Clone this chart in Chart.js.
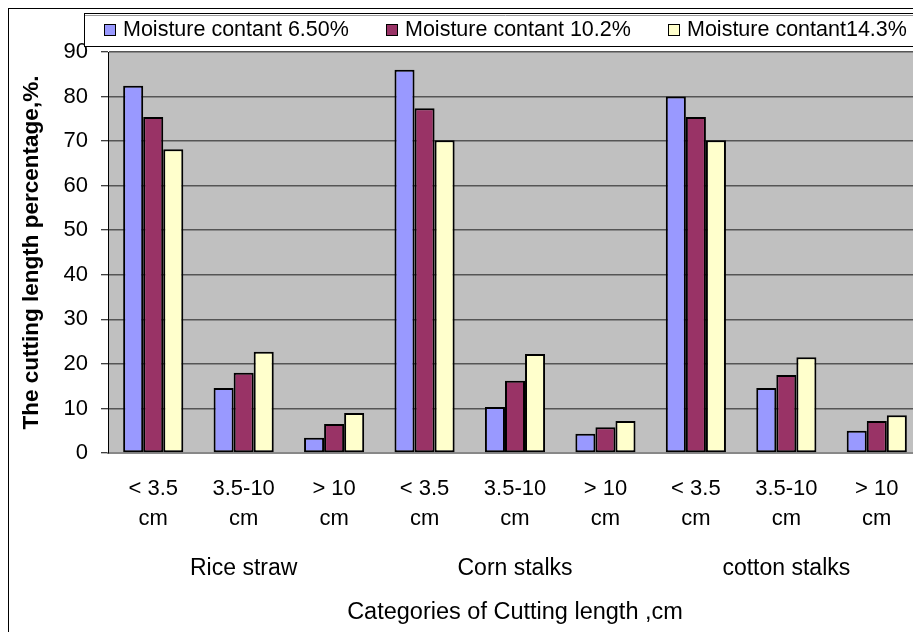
<!DOCTYPE html>
<html>
<head>
<meta charset="utf-8">
<script src="https://cdn.jsdelivr.net/npm/chart.js@4.4.0/dist/chart.umd.min.js"></script>
<style>
    html, body { margin: 0; padding: 0; background: #fff; overflow: hidden; }
    #wrap { width: 925px; height: 632px; }
</style>
</head>
<body>
<div id="wrap"><canvas id="chart" width="925" height="632"></canvas></div>
<script>
// Cutting length categories (two lines each) and crop groups
const cuttingLabels = [
    ['< 3.5', 'cm'], ['3.5-10', 'cm'], ['> 10', 'cm'],
    ['< 3.5', 'cm'], ['3.5-10', 'cm'], ['> 10', 'cm'],
    ['< 3.5', 'cm'], ['3.5-10', 'cm'], ['> 10', 'cm']
];
const cropGroups = ['Rice straw', 'Corn stalks', 'cotton stalks'];

const seriesNames = ['Moisture contant 6.50%', 'Moisture contant 10.2%', 'Moisture contant14.3%'];
const moisture650 = [82.4, 14.6, 3.4, 86.0, 10.3, 4.3, 80.0, 14.6, 5.0];
const moisture102 = [75.4, 18.0, 6.5, 77.4, 16.2, 5.8, 75.4, 17.5, 7.2];
const moisture143 = [68.2, 22.7, 9.0, 70.2, 22.2, 7.2, 70.2, 21.5, 8.5];
const seriesColors = ['#9999FF', '#993366', '#FFFFCC'];

const yTicks = [0, 10, 20, 30, 40, 50, 60, 70, 80, 90];

const FONT = "'Liberation Sans', Arial, sans-serif";

// plot background + outer frame
const backdrop = {
    id: 'backdrop',
    beforeDraw(chart) {
        const { ctx, chartArea: a } = chart;
        ctx.save();
        ctx.strokeStyle = '#000';
        ctx.lineWidth = 1;
        ctx.strokeRect(8.5, 8.5, 1000, 700);
        ctx.fillStyle = '#C0C0C0';
        ctx.fillRect(a.left, a.top, a.right - a.left, a.bottom - a.top);
        ctx.restore();
    }
};

// legend drawn as a boxed strip overlapping the top of the plot
const boxLegend = {
    id: 'boxLegend',
    afterDraw(chart) {
        const ctx = chart.ctx;
        ctx.save();
        ctx.fillStyle = '#fff';
        ctx.fillRect(84, 13, 900, 33);
        ctx.strokeStyle = '#000';
        ctx.lineWidth = 1;
        ctx.strokeRect(84.5, 13.5, 900, 33);
        ctx.strokeStyle = '#999';
        ctx.beginPath();
        ctx.moveTo(85, 15.5);
        ctx.lineTo(984, 15.5);
        ctx.stroke();
        ctx.strokeStyle = '#000';
        ctx.font = '21.5px ' + FONT;
        ctx.textBaseline = 'middle';
        const starts = [104, 386, 668];
        chart.data.datasets.forEach((ds, i) => {
            const x = starts[i];
            ctx.fillStyle = ds.backgroundColor;
            ctx.fillRect(x + 0.5, 24.5, 11, 11);
            ctx.strokeRect(x + 0.5, 24.5, 11, 11);
            ctx.fillStyle = '#000';
            ctx.fillText(ds.label, x + 19, 30);
        });
        ctx.restore();
    }
};

const ctx = document.getElementById('chart').getContext('2d');
new Chart(ctx, {
    type: 'bar',
    data: {
        labels: cuttingLabels,
        datasets: [
            { label: seriesNames[0], data: moisture650, backgroundColor: seriesColors[0] },
            { label: seriesNames[1], data: moisture102, backgroundColor: seriesColors[1] },
            { label: seriesNames[2], data: moisture143, backgroundColor: seriesColors[2] }
        ].map(ds => Object.assign(ds, {
            borderColor: '#000',
            borderWidth: 2,
            borderSkipped: false,
            categoryPercentage: 0.665,
            barPercentage: 1.0
        }))
    },
    options: {
        responsive: false,
        animation: false,
        layout: { padding: { left: 8, top: 52, right: 3, bottom: 0 } },
        plugins: {
            legend: { display: false },
            tooltip: { enabled: false }
        },
        scales: {
            x: {
                position: 'bottom',
                weight: 0,
                grid: { display: false, drawTicks: false },
                border: { display: true, color: '#888', width: 2 },
                ticks: {
                    color: '#000',
                    font: { family: FONT, size: 22, lineHeight: 1.36 },
                    padding: 21,
                    maxRotation: 0,
                    autoSkip: false
                },
                afterFit(scale) { scale.height = 80; }
            },
            x2: {
                type: 'category',
                labels: cropGroups,
                position: 'bottom',
                weight: 1,
                offset: true,
                grid: { display: false, drawTicks: false },
                border: { display: false },
                ticks: {
                    color: '#000',
                    font: { family: FONT, size: 23, lineHeight: 1.2 },
                    padding: 22,
                    maxRotation: 0
                },
                title: {
                    display: true,
                    text: 'Categories of Cutting length ,cm',
                    color: '#000',
                    font: { family: FONT, size: 23.5, lineHeight: 1.2 },
                    padding: { top: 0, bottom: 5 }
                },
                afterFit(scale) { scale.height = 99; }
            },
            y: {
                min: 0,
                max: 90,
                afterBuildTicks(scale) { scale.ticks = yTicks.map(v => ({ value: v })); },
                grid: {
                    color: '#555',
                    lineWidth: 1.5,
                    tickLength: 7,
                    tickColor: '#000',
                    tickWidth: 1
                },
                border: { display: true, color: '#000', width: 1 },
                ticks: {
                    color: '#000',
                    font: { family: FONT, size: 22 },
                    padding: 13
                },
                title: {
                    display: true,
                    text: 'The cutting length percentage,%.',
                    color: '#000',
                    font: { family: FONT, size: 22.5, weight: 'bold', lineHeight: 1.2 },
                    padding: { top: 10, bottom: 0 }
                },
                afterFit(scale) { scale.width = 100; }
            }
        }
    },
    plugins: [backdrop, boxLegend]
});
</script>
</body>
</html>
